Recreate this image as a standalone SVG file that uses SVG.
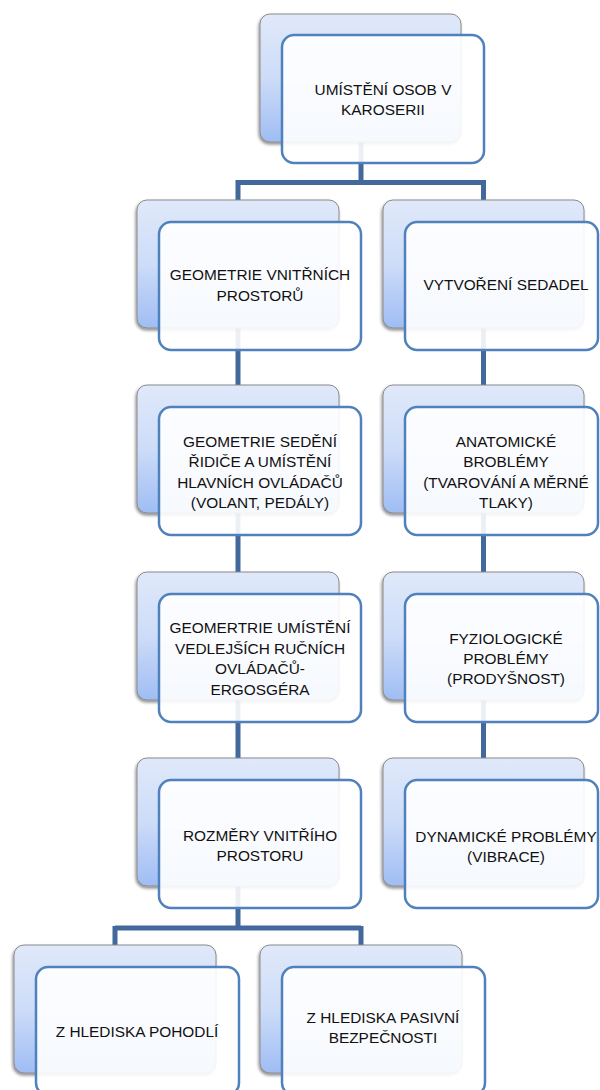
<svg xmlns="http://www.w3.org/2000/svg" width="600" height="1090" viewBox="0 0 600 1090">
<style>
.bk{fill:url(#g);stroke:#8a8a8a;stroke-width:1;filter:url(#sh)}
.fr{fill:#ffffff;fill-opacity:0.9;stroke:#4f81bd;stroke-width:2.5}
.t{font-family:"Liberation Sans",Arial,sans-serif;font-size:15.4px;fill:#111;text-anchor:middle}
.c{fill:none;stroke:#43699c;stroke-width:5}
</style>
<defs>
<linearGradient id="g" x1="0" y1="0" x2="0" y2="1">
<stop offset="0" stop-color="#e0e9fa"/>
<stop offset="0.5" stop-color="#cddcf8"/>
<stop offset="1" stop-color="#9fbdf4"/>
</linearGradient>
<filter id="sh" x="-10%" y="-10%" width="120%" height="125%">
<feDropShadow dx="-1" dy="2" stdDeviation="1.5" flood-color="#000" flood-opacity="0.45"/>
</filter>
</defs>
<rect width="600" height="1090" fill="#fff"/>
<g id="connectors">
<path class="c" d="M361 78V182.5M238 182.5H483.5M238 180V264M483.5 180V264"/>
<path class="c" d="M238 264V822M483.5 264V822"/>
<path class="c" d="M238 822V928M115 928H361M115 926V1000M361 926V1000"/>
</g>
<g id="n0">
<rect class="bk" x="260" y="14" width="201" height="128" rx="10"/>
<rect class="fr" x="282" y="35" width="202" height="128" rx="12"/>
<text class="t" x="383" y="95">UMÍSTĚNÍ OSOB V</text>
<text class="t" x="383" y="115">KAROSERII</text>
</g>
<g id="n1">
<rect class="bk" x="137" y="200" width="202" height="128" rx="10"/>
<rect class="fr" x="159" y="222" width="202" height="128" rx="12"/>
<text class="t" x="260" y="280">GEOMETRIE VNITŘNÍCH</text>
<text class="t" x="260" y="301">PROSTORŮ</text>
</g>
<g id="n2">
<rect class="bk" x="383" y="200" width="201" height="128" rx="10"/>
<rect class="fr" x="405" y="222" width="193" height="128" rx="12"/>
<text class="t" x="506" y="290">VYTVOŘENÍ SEDADEL</text>
</g>
<g id="n3">
<rect class="bk" x="137" y="385" width="202" height="128" rx="10"/>
<rect class="fr" x="159" y="407" width="202" height="128" rx="12"/>
<text class="t" x="260" y="447">GEOMETRIE SEDĚNÍ</text>
<text class="t" x="260" y="467">ŘIDIČE A UMÍSTĚNÍ</text>
<text class="t" x="260" y="488">HLAVNÍCH OVLÁDAČŮ</text>
<text class="t" x="260" y="508">(VOLANT, PEDÁLY)</text>
</g>
<g id="n4">
<rect class="bk" x="383" y="385" width="201" height="128" rx="10"/>
<rect class="fr" x="405" y="407" width="193" height="128" rx="12"/>
<text class="t" x="506" y="447">ANATOMICKÉ</text>
<text class="t" x="506" y="467">BROBLÉMY</text>
<text class="t" x="506" y="488">(TVAROVÁNÍ A MĚRNÉ</text>
<text class="t" x="506" y="508">TLAKY)</text>
</g>
<g id="n5">
<rect class="bk" x="137" y="572" width="202" height="128" rx="10"/>
<rect class="fr" x="159" y="594" width="202" height="128" rx="12"/>
<text class="t" x="260" y="633">GEOMERTRIE UMÍSTĚNÍ</text>
<text class="t" x="260" y="654">VEDLEJŠÍCH RUČNÍCH</text>
<text class="t" x="260" y="674">OVLÁDAČŮ-</text>
<text class="t" x="260" y="695">ERGOSGÉRA</text>
</g>
<g id="n6">
<rect class="bk" x="383" y="572" width="201" height="128" rx="10"/>
<rect class="fr" x="405" y="594" width="193" height="128" rx="12"/>
<text class="t" x="506" y="644">FYZIOLOGICKÉ</text>
<text class="t" x="506" y="664">PROBLÉMY</text>
<text class="t" x="506" y="684">(PRODYŠNOST)</text>
</g>
<g id="n7">
<rect class="bk" x="137" y="758" width="202" height="128" rx="10"/>
<rect class="fr" x="159" y="780" width="202" height="128" rx="12"/>
<text class="t" x="260" y="841">ROZMĚRY VNITŘÍHO</text>
<text class="t" x="260" y="861">PROSTORU</text>
</g>
<g id="n8">
<rect class="bk" x="383" y="758" width="201" height="128" rx="10"/>
<rect class="fr" x="405" y="780" width="193" height="128" rx="12"/>
<text class="t" x="506" y="842">DYNAMICKÉ PROBLÉMY</text>
<text class="t" x="506" y="862">(VIBRACE)</text>
</g>
<g id="n9">
<rect class="bk" x="14" y="945" width="202" height="128" rx="10"/>
<rect class="fr" x="36" y="967" width="203" height="128" rx="12"/>
<text class="t" x="137" y="1037">Z HLEDISKA POHODLÍ</text>
</g>
<g id="n10">
<rect class="bk" x="260" y="945" width="202" height="128" rx="10"/>
<rect class="fr" x="282" y="967" width="203" height="128" rx="12"/>
<text class="t" x="383" y="1023">Z HLEDISKA PASIVNÍ</text>
<text class="t" x="383" y="1043">BEZPEČNOSTI</text>
</g>
</svg>
